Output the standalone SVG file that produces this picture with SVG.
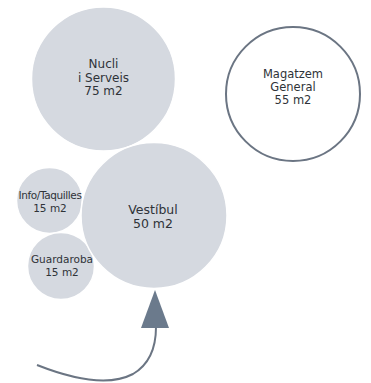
<svg xmlns="http://www.w3.org/2000/svg" width="371" height="383" viewBox="0 0 371 383">
<style>
.c{fill:#d5d9e0;stroke:#ffffff;stroke-width:1.5}
.m{fill:#ffffff;stroke:#6b7583;stroke-width:2}
.t{font-family:"DejaVu Sans",sans-serif;fill:#2f3338;text-anchor:middle}
</style>
<rect width="371" height="383" fill="#ffffff"/>
<g id="nucli"><circle class="c" cx="103.5" cy="79" r="72"/>
<text class="t" font-size="12" x="103.5" y="68">Nucli</text>
<text class="t" font-size="12" x="103.5" y="81.5">i Serveis</text>
<text class="t" font-size="12" x="103.5" y="95">75 m2</text></g>
<g id="magatzem"><circle class="m" cx="293" cy="94" r="67"/>
<text class="t" font-size="11.5" x="293" y="78">Magatzem</text>
<text class="t" font-size="11.5" x="293" y="91">General</text>
<text class="t" font-size="11.5" x="293" y="104">55 m2</text></g>
<g id="info"><circle class="c" cx="49.5" cy="200.5" r="33"/>
<text class="t" font-size="10.5" x="50" y="199" letter-spacing="-0.4">Info/Taquilles</text>
<text class="t" font-size="10.5" x="50" y="211.5">15 m2</text></g>
<g id="guardaroba"><circle class="c" cx="61" cy="266" r="33.5"/>
<text class="t" font-size="10.5" x="62" y="263">Guardaroba</text>
<text class="t" font-size="10.5" x="62" y="275.5">15 m2</text></g>
<g id="vestibul"><circle class="c" cx="154" cy="215.5" r="73"/>
<text class="t" font-size="12.5" x="153" y="214">Vestíbul</text>
<text class="t" font-size="12.5" x="153" y="227.5">50 m2</text></g>
<g id="connectors">
<path d="M37,365 C75,380 110,386 133,374 C150,364 156,346 156,327" fill="none" stroke="#6b7583" stroke-width="2"/>
<polygon points="155,290 169,328 141,328" fill="#6b7a8c"/>
</g>
</svg>
